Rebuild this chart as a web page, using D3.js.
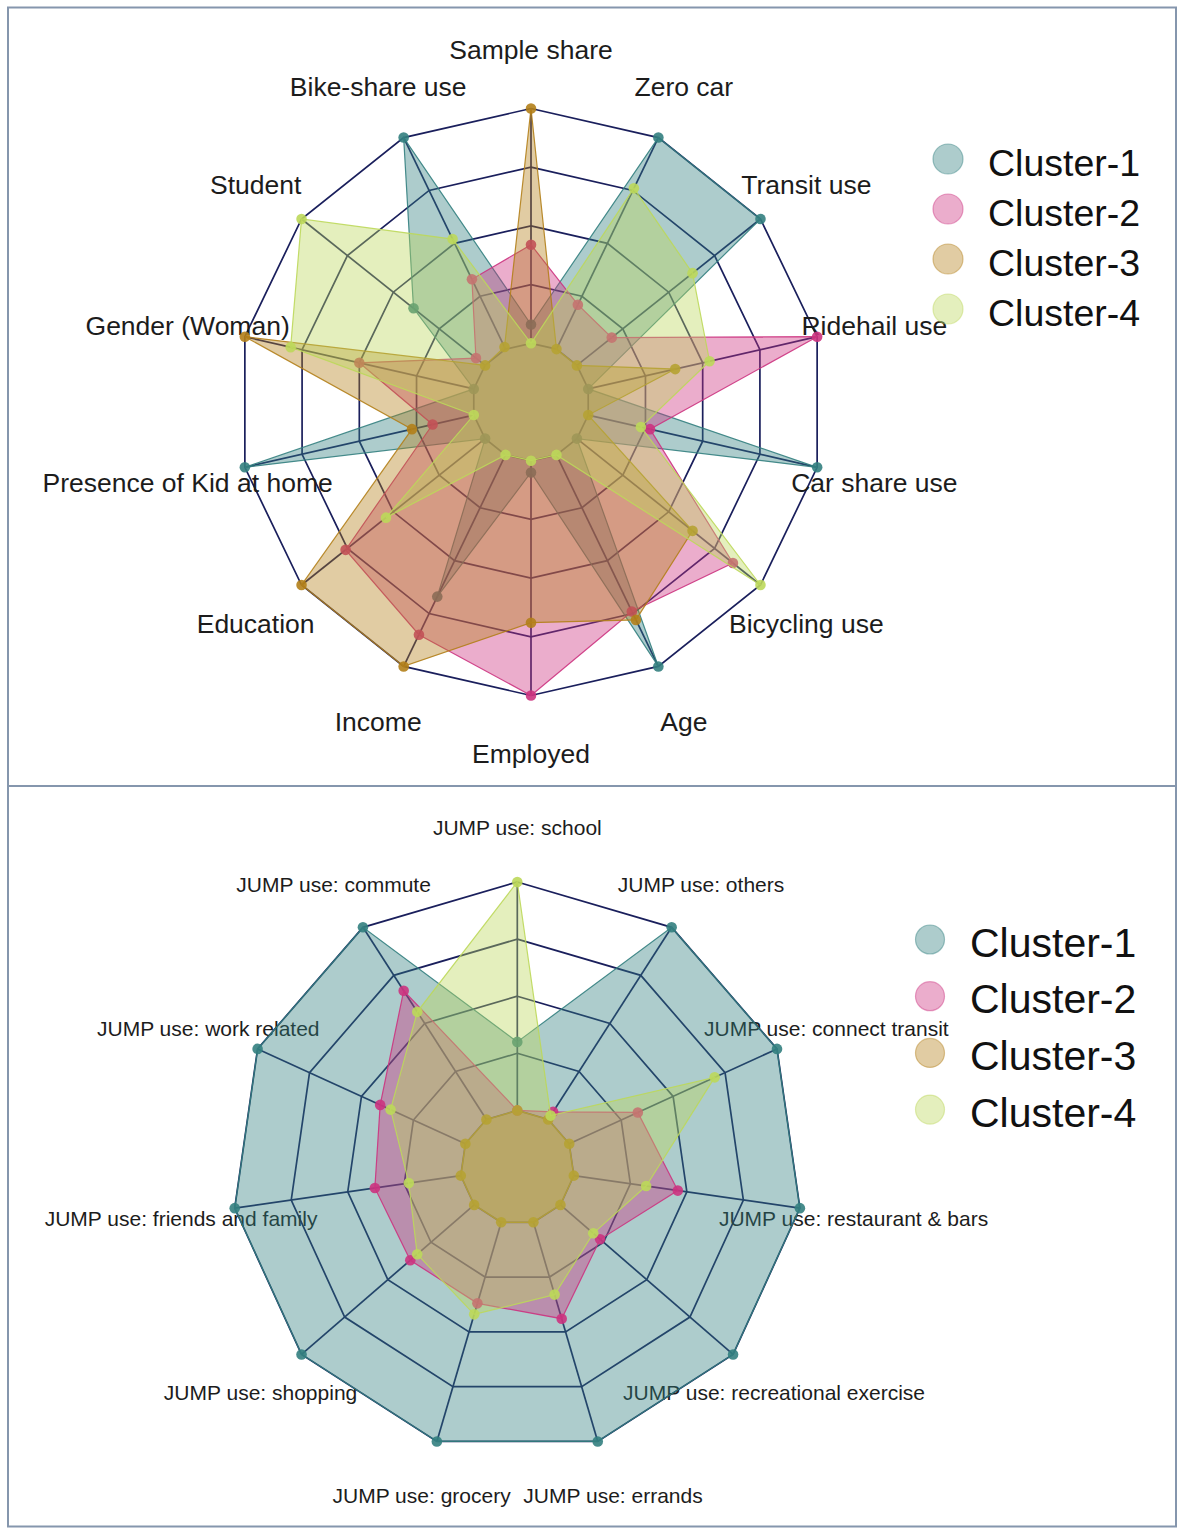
<!DOCTYPE html>
<html><head><meta charset="utf-8">
<script src="https://cdn.jsdelivr.net/npm/d3@7"></script>
<style>body{margin:0;background:#fff;} svg{display:block;}</style>
</head><body><svg id="c" width="1178" height="1528"></svg>
<script>
// ---------- DATA ----------
const topAxes = ["Sample share","Zero car","Transit use","Ridehail use","Car share use","Bicycling use","Age","Employed","Income","Education","Presence of Kid at home","Gender (Woman)","Student","Bike-share use"];
const topCluster1 = [8,100,100,0,100,0,100,5,67,0,100,0,39,100];
const topCluster2 = [42,21,19,100,27,85,74,100,85,76,18,50,5,33];
const topCluster3 = [100,0,0,38,0,63,78,69,100,100,27,100,0,1];
const topCluster4 = [0,76,63,53,23,100,0,0,0,54,0,80,100,52];

const bottomAxes = ["JUMP use: school","JUMP use: others","JUMP use: connect transit","JUMP use: restaurant & bars","JUMP use: recreational exercise","JUMP use: errands","JUMP use: grocery","JUMP use: shopping","JUMP use: friends and family","JUMP use: work related","JUMP use: commute"];
const bottomCluster1 = [30,100,100,100,100,100,100,100,100,100,100];
const bottomCluster2 = [0,4,33,46,23,44,37,37,38,41,67];
const bottomCluster3 = [0,0,0,0,0,0,0,0,0,0,0];
const bottomCluster4 = [100,2,70,32,19,33,42,33,23,36,56];

const clusterNames = ["Cluster-1","Cluster-2","Cluster-3","Cluster-4"];
const gridLevels = [0,25,50,75,100];
const valueDomain = [0,100];

// ---------- STYLE ----------
const rgb = [[51,128,128],[204,51,128],[179,128,26],[188,216,90]];
const col = (c,a) => `rgba(${c[0]},${c[1]},${c[2]},${a})`;
const gridColor = "#1a1f5c";
const FONT = "'Liberation Sans', Arial, Helvetica, sans-serif";

const svg = d3.select("#c");
svg.append("rect").attr("width",1178).attr("height",1528).attr("fill","#fff");

function radar(axes, series, cx, cy, R, labelFactor, fontSize) {
  const n = axes.length;
  const g = svg.append("g").attr("transform", `translate(${cx},${cy})`);
  const ang = d3.scaleLinear().domain([0, n]).range([0, 2*Math.PI]);
  const rad = d3.scaleLinear().domain(valueDomain).range([0.2*R, R]);
  const idx = d3.range(n);
  const xy = (i, r) => [r*Math.sin(ang(i)), -r*Math.cos(ang(i))];

  const ring = d3.lineRadial().angle(i => ang(i)).curve(d3.curveLinearClosed);
  gridLevels.forEach(l => {
    g.append("path").attr("d", ring.radius(() => rad(l))(idx))
      .attr("fill","none").attr("stroke",gridColor).attr("stroke-width",1.7);
  });
  idx.forEach(i => {
    const a = xy(i, rad(valueDomain[0])), b = xy(i, rad(valueDomain[1]));
    g.append("line").attr("x1",a[0]).attr("y1",a[1]).attr("x2",b[0]).attr("y2",b[1])
      .attr("stroke",gridColor).attr("stroke-width",1.7);
  });
  idx.forEach(i => {
    const p = xy(i, R*labelFactor);
    const c = Math.cos(ang(i));
    const dy = Math.abs(c) < 0.99 ? 2.5 : 0;
    g.append("text").attr("x",p[0]).attr("y",p[1] + dy)
      .attr("text-anchor","middle").attr("dominant-baseline","central")
      .attr("font-family",FONT).attr("font-size",fontSize).attr("fill","#1c1c1c")
      .text(axes[i]);
  });
  series.forEach((vals, s) => {
    const line = d3.lineRadial().angle((d,i) => ang(i)).radius(d => rad(d)).curve(d3.curveLinearClosed);
    g.append("path").attr("d", line(vals))
      .attr("fill", col(rgb[s],0.4)).attr("stroke", col(rgb[s],0.9)).attr("stroke-width",1.2);
    vals.forEach((v,i) => {
      const p = xy(i, rad(v));
      g.append("circle").attr("cx",p[0]).attr("cy",p[1]).attr("r",5.3)
        .attr("fill", col(rgb[s],0.9));
    });
  });
}

function legend(x, y0, step, r, fontSize, dy) {
  clusterNames.forEach((name, s) => {
    const y = y0 + s*step;
    svg.append("circle").attr("cx",x).attr("cy",y).attr("r",r)
      .attr("fill", col(rgb[s],0.4)).attr("stroke", col(rgb[s],0.45)).attr("stroke-width",1.2);
    svg.append("text").attr("x", x + 40).attr("y", y + dy)
      .attr("dominant-baseline","central").attr("font-family",FONT)
      .attr("font-size",fontSize).attr("fill","#111").text(name);
  });
}

const frame = svg.append("g").attr("stroke","#8596ad").attr("stroke-width",2).attr("fill","none");
frame.append("rect").attr("x",8).attr("y",7.5).attr("width",1168).attr("height",1519);
frame.append("line").attr("x1",8).attr("x2",1176).attr("y1",786).attr("y2",786);

radar(topAxes, [topCluster1, topCluster2, topCluster3, topCluster4], 531, 402, 293.5, 1.2, 26.5);
legend(948, 159, 50, 15, 37.5, 4);

radar(bottomAxes, [bottomCluster1, bottomCluster2, bottomCluster3, bottomCluster4], 517.3, 1167.5, 285.5, 1.19, 21);
legend(930, 939.5, 56.7, 14.5, 41, 3);
</script>
</body></html>
